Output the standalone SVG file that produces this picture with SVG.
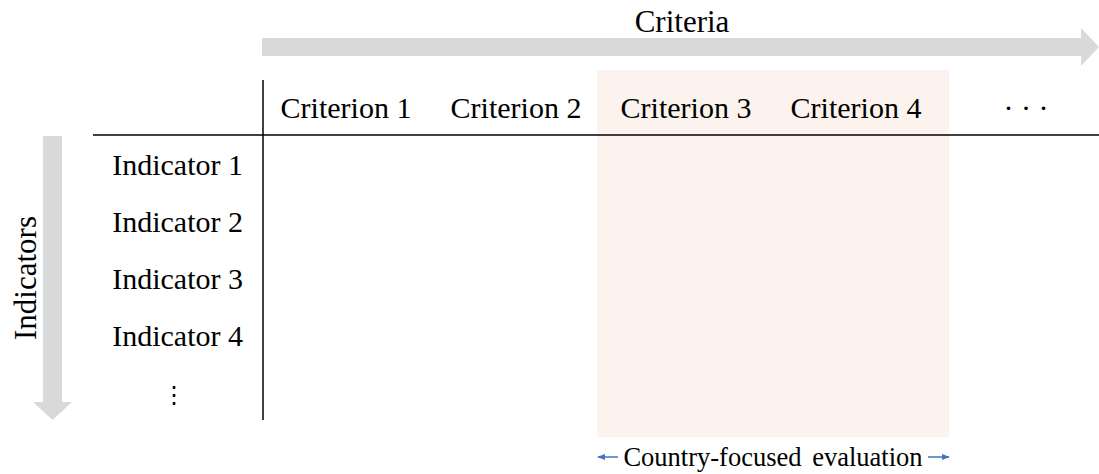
<svg xmlns="http://www.w3.org/2000/svg" width="1099" height="474" viewBox="0 0 1099 474">
<defs>
<style>
text{font-family:"Liberation Serif","Times New Roman",serif;fill:#000}
.h{font-size:30px;text-anchor:middle}
.r{font-size:30px;text-anchor:end}
.big{font-size:31px;text-anchor:middle}
.grey{fill:#d9d9d9}
.line{stroke:#000;stroke-width:1.5;fill:none}
.blue{stroke:#4472c4;stroke-width:1.5;fill:none}
</style>
<marker id="bh" viewBox="0 0 10 10" refX="9" refY="5" markerWidth="8" markerHeight="8" markerUnits="userSpaceOnUse" orient="auto">
<path d="M0,1 L10,5 L0,9 Z" fill="#4472c4"/>
</marker>
</defs>
<rect id="focus" x="597" y="70" width="352" height="367" fill="#fcf3ee"/>
<g id="criteria-arrow">
<path class="grey" d="M262,38 H1081 V28 L1099,47 L1081,66 V56 H262 Z"/>
<text class="big" x="682" y="32">Criteria</text>
</g>
<g id="indicators-arrow">
<path class="grey" d="M43,136 H62 V402 H72 L52.5,420 L33,402 H43 Z"/>
<text class="big" transform="translate(36,278) rotate(-90)">Indicators</text>
</g>
<g id="grid">
<line class="line" x1="93" y1="135" x2="1099" y2="135"/>
<line class="line" x1="263" y1="80" x2="263" y2="420"/>
</g>
<g id="criteria">
<text class="h" x="346" y="118">Criterion 1</text>
<text class="h" x="516" y="118">Criterion 2</text>
<text class="h" x="686" y="118">Criterion 3</text>
<text class="h" x="856" y="118">Criterion 4</text>
<text class="h" x="1026" y="118">· · ·</text>
</g>
<g id="indicators">
<text class="r" x="243" y="175">Indicator 1</text>
<text class="r" x="243" y="232">Indicator 2</text>
<text class="r" x="243" y="289">Indicator 3</text>
<text class="r" x="243" y="346">Indicator 4</text>
<text x="173.5" y="403" style="font-size:24px;text-anchor:middle">⋮</text>
</g>
<g id="connectors">
<line class="blue" x1="618" y1="457" x2="598" y2="457" marker-end="url(#bh)"/>
<line class="blue" x1="928" y1="457" x2="949" y2="457" marker-end="url(#bh)"/>
</g>
<g id="label">
<text x="773" y="466" style="font-size:26.5px;text-anchor:middle;word-spacing:4px">Country-focused evaluation</text>
</g>
</svg>
